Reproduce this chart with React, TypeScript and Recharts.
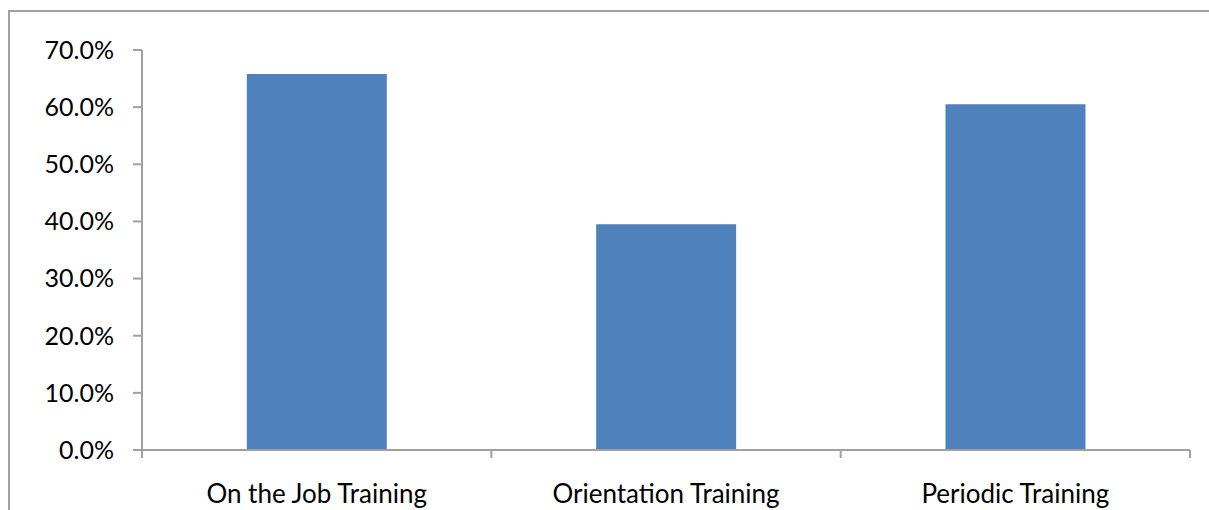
import { Bar, BarChart, XAxis, YAxis } from "recharts";

const categories = ["On the Job Training", "Orientation Training", "Periodic Training"];
const shares = [65.8, 39.5, 60.5];
const yTicks = [0, 10, 20, 30, 40, 50, 60, 70];

const data = categories.map((name, i) => ({ name, value: shares[i] }));

const W = 1209;
const H = 510;
const M = { top: 50, right: 19, left: 0, bottom: 0 };
const Y_AXIS_W = 142;
const AXIS = "#a0a0a0";
const FONT = "Lato, 'Open Sans', sans-serif";
const HALF_BAND = (W - M.left - M.right - Y_AXIS_W) / categories.length / 2;

function CategoryTick(props: any) {
  const { x, y, payload, index } = props;
  const top = y;
  return (
    <g>
      <line x1={x - HALF_BAND} y1={top} x2={x - HALF_BAND} y2={top + 8} stroke={AXIS} strokeWidth={2} />
      {index === categories.length - 1 && (
        <line x1={x + HALF_BAND} y1={top} x2={x + HALF_BAND} y2={top + 8} stroke={AXIS} strokeWidth={2} />
      )}
      <text x={x} y={top + 53} textAnchor="middle" fontSize={26} fill="#000" fontFamily={FONT}>
        {payload.value}
      </text>
    </g>
  );
}

export default function App() {
  return (
    <div style={{ position: "absolute", left: 0, top: 0, width: W, height: H, overflow: "hidden", background: "#fff" }}>
      <div
        style={{
          position: "absolute",
          left: 8,
          top: 10,
          width: W + 20,
          height: H + 20,
          borderLeft: `2px solid ${AXIS}`,
          borderTop: `2px solid ${AXIS}`,
          boxSizing: "border-box",
        }}
      />
      <div style={{ position: "absolute", left: 0, top: 0 }}>
        <BarChart width={W} height={H} data={data} margin={M} barCategoryGap="30%">
          <XAxis
            dataKey="name"
            height={H - 450 - M.bottom}
            axisLine={{ stroke: AXIS, strokeWidth: 2 }}
            tickLine={false}
            tickSize={0}
            tickMargin={0}
            tick={<CategoryTick />}
            interval={0}
          />
          <YAxis
            width={Y_AXIS_W}
            domain={[0, 70]}
            ticks={yTicks}
            interval={0}
            axisLine={{ stroke: AXIS, strokeWidth: 2 }}
            tickLine={{ stroke: AXIS, strokeWidth: 2 }}
            tickSize={9}
            tickMargin={19}
            tickFormatter={(v: number) => `${v.toFixed(1)}%`}
            tick={{ fontSize: 25, fill: "#000", fontFamily: FONT }}
          />
          <Bar dataKey="value" fill="#4f81bd" isAnimationActive={false} />
        </BarChart>
      </div>
    </div>
  );
}
